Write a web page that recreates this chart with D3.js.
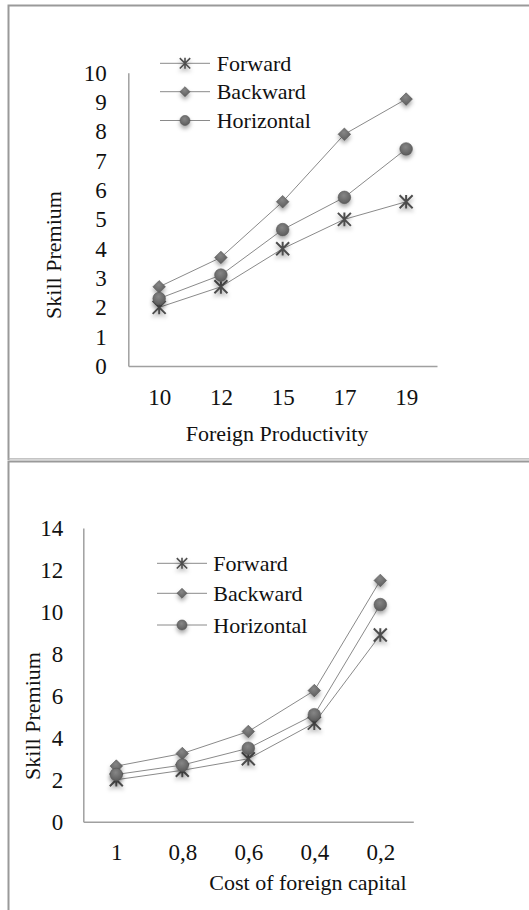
<!DOCTYPE html>
<html>
<head>
<meta charset="utf-8">
<script src="https://cdn.jsdelivr.net/npm/d3@7"></script>
<style>
  html, body { margin: 0; padding: 0; background: #fff; }
  svg { display: block; }
  text { font-family: "Liberation Serif", "Times New Roman", serif; fill: #111; }
</style>
</head>
<body>
<svg id="chart" width="529" height="910"></svg>
<script>
// ---------- DATA ----------
const seriesNames = ["Forward", "Backward", "Horizontal"];

const productivityCategories = ["10", "12", "15", "17", "19"];
const productivityForward    = [2.0, 2.7, 4.0, 5.0, 5.6];
const productivityBackward   = [2.7, 3.7, 5.6, 7.9, 9.1];
const productivityHorizontal = [2.3, 3.1, 4.65, 5.75, 7.4];
const productivityYTicks = [0, 1, 2, 3, 4, 5, 6, 7, 8, 9, 10];

const capitalCategories = ["1", "0,8", "0,6", "0,4", "0,2"];
const capitalForward    = [2.0, 2.45, 3.0, 4.7, 8.9];
const capitalBackward   = [2.65, 3.25, 4.3, 6.25, 11.5];
const capitalHorizontal = [2.25, 2.7, 3.5, 5.1, 10.35];
const capitalYTicks = [0, 2, 4, 6, 8, 10, 12, 14];

const yTitle = "Skill Premium";
const productivityXTitle = "Foreign Productivity";
const capitalXTitle = "Cost of foreign capital";

// ---------- DRAW ----------
const svg = d3.select("#chart");
const defs = svg.append("defs");

const shadow = defs.append("filter").attr("id", "shadow")
  .attr("x", "-60%").attr("y", "-60%").attr("width", "220%").attr("height", "240%");
shadow.append("feDropShadow").attr("dx", 0).attr("dy", 3).attr("stdDeviation", 2)
  .attr("flood-color", "#000").attr("flood-opacity", 0.35);

const grad = defs.append("radialGradient").attr("id", "gloss")
  .attr("cx", "45%").attr("cy", "35%").attr("r", "65%");
grad.append("stop").attr("offset", "0%").attr("stop-color", "#868686");
grad.append("stop").attr("offset", "100%").attr("stop-color", "#5c5c5c");

const fontSize = 22;
const tickFontSize = 23;

// panel borders
svg.append("path")
  .attr("d", "M8.5,460 L8.5,5.5 L540,5.5")
  .attr("fill", "none").attr("stroke", "#9a9a9a").attr("stroke-width", 2);
svg.append("path")
  .attr("d", "M8.5,920 L8.5,461.5 L540,461.5")
  .attr("fill", "none").attr("stroke", "#9a9a9a").attr("stroke-width", 2);
svg.append("line").attr("x1", 8.5).attr("x2", 540).attr("y1", 458.8).attr("y2", 458.8)
  .attr("stroke", "#b0b0b0").attr("stroke-width", 1.2);

function drawMarker(g, type, x, y, scale) {
  const s = scale || 1;
  if (type === "Forward") {
    const r = 6.5 * s;
    const p = g.append("g").attr("transform", `translate(${x},${y})`).attr("filter", "url(#shadow)");
    const d = `M${-r},${-r}L${r},${r}M${-r},${r}L${r},${-r}M0,${-r * 1.05}L0,${r * 1.05}`;
    p.append("path").attr("d", d).attr("stroke", "#4e4e4e").attr("stroke-width", 2 * Math.max(s, 0.8)).attr("fill", "none");
  } else if (type === "Backward") {
    const r = 6.3 * s;
    g.append("path")
      .attr("d", `M${x},${y - r}L${x + r},${y}L${x},${y + r}L${x - r},${y}Z`)
      .attr("fill", "url(#gloss)").attr("stroke", "#555").attr("stroke-width", 0.6)
      .attr("filter", "url(#shadow)");
  } else {
    g.append("circle").attr("cx", x).attr("cy", y).attr("r", 6.3 * s)
      .attr("fill", "url(#gloss)").attr("stroke", "#555").attr("stroke-width", 0.6)
      .attr("filter", "url(#shadow)");
  }
}

function drawPanel(cfg) {
  const g = svg.append("g");
  const x = d3.scalePoint().domain(cfg.categories).range([cfg.x0, cfg.x1]).padding(0.5);
  const y = d3.scaleLinear().domain([0, cfg.yMax]).range([cfg.y0, cfg.y1]);

  // y axis
  const yAxis = g.append("g").attr("transform", `translate(${cfg.x0},0)`)
    .call(d3.axisLeft(y).tickValues(cfg.yTicks).tickSize(0).tickPadding(cfg.yLabelGap).tickFormat(d3.format("d")));
  yAxis.select(".domain").attr("stroke", "#a0a0a0").attr("stroke-width", 1.5);
  yAxis.selectAll("text").attr("font-size", tickFontSize).attr("fill", "#111");

  // x axis
  const xAxis = g.append("g").attr("transform", `translate(0,${cfg.y0})`)
    .call(d3.axisBottom(x).tickSize(0).tickSizeOuter(0));
  xAxis.select(".domain").attr("stroke", "#a0a0a0").attr("stroke-width", 1.5);
  xAxis.selectAll("text").attr("font-size", tickFontSize).attr("fill", "#111")
    .attr("dy", null).attr("y", cfg.xLabelBaseline);

  // titles
  g.append("text").attr("x", cfg.xTitleX).attr("y", cfg.xTitleY).attr("text-anchor", "middle")
    .attr("font-size", fontSize).text(cfg.xTitle);
  g.append("text").attr("transform", `translate(${cfg.yTitleX},${cfg.yTitleY}) rotate(-90)`)
    .attr("text-anchor", "middle").attr("font-size", fontSize).text(yTitle);

  // lines
  const line = d3.line().x((d, i) => x(cfg.categories[i])).y(d => y(d));
  cfg.series.forEach((vals) => {
    g.append("path").datum(vals).attr("d", line)
      .attr("fill", "none").attr("stroke", "#8a8a8a").attr("stroke-width", 1);
  });
  seriesNames.forEach((name, si) => {
    cfg.series[si].forEach((v, i) => drawMarker(g, name, x(cfg.categories[i]), y(v), 1));
  });

  // legend
  seriesNames.forEach((name, i) => {
    const ly = cfg.legendY[i];
    g.append("line").attr("x1", cfg.legendLine[0]).attr("x2", cfg.legendLine[1])
      .attr("y1", ly).attr("y2", ly).attr("stroke", "#8a8a8a").attr("stroke-width", 1);
    drawMarker(g, name, (cfg.legendLine[0] + cfg.legendLine[1]) / 2, ly, 0.8);
    g.append("text").attr("x", cfg.legendText).attr("y", ly + 7.5).attr("font-size", fontSize).text(name);
  });
}

drawPanel({
  categories: productivityCategories,
  series: [productivityForward, productivityBackward, productivityHorizontal],
  yMax: 10, yTicks: productivityYTicks,
  x0: 128.3, x1: 437, y0: 366, y1: 72.7,
  yLabelGap: 21.5, xLabelBaseline: 38.5,
  xTitle: productivityXTitle, xTitleX: 277, xTitleY: 441,
  yTitleX: 61, yTitleY: 255,
  legendY: [63.3, 91.7, 120.5], legendLine: [160, 210], legendText: 216.7
});

drawPanel({
  categories: capitalCategories,
  series: [capitalForward, capitalBackward, capitalHorizontal],
  yMax: 14, yTicks: capitalYTicks,
  x0: 83.3, x1: 413.3, y0: 821.7, y1: 528,
  yLabelGap: 20, xLabelBaseline: 38,
  xTitle: capitalXTitle, xTitleX: 308, xTitleY: 890,
  yTitleX: 40, yTitleY: 716,
  legendY: [563.3, 593.3, 625], legendLine: [157, 207], legendText: 213.3
});
</script>
</body>
</html>
